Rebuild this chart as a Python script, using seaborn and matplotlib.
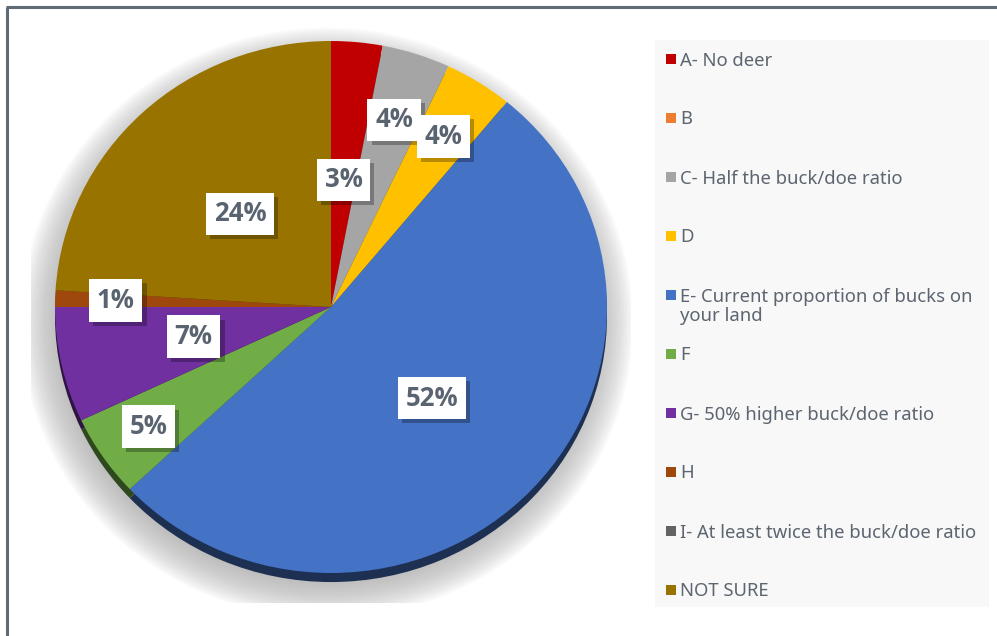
import matplotlib
matplotlib.use("Agg")
import matplotlib.pyplot as plt
import matplotlib.patheffects as pe
import matplotlib.colors as mcolors
from matplotlib.patches import Ellipse, Rectangle
import numpy as np
import seaborn as sns

# Survey answers and their shares (percent)
categories = [
    "A- No deer",
    "B",
    "C- Half the buck/doe ratio",
    "D",
    "E- Current proportion of bucks on\nyour land",
    "F",
    "G- 50% higher buck/doe ratio",
    "H",
    "I- At least twice the buck/doe ratio",
    "NOT SURE",
]
shares = [3, 0, 4, 4, 52, 5, 7, 1, 0, 24]
colors = ["#C00000", "#ED7D31", "#A5A5A5", "#FFC000", "#4472C4",
          "#70AD47", "#7030A0", "#9E480E", "#636363", "#997300"]

# radial position of each value box (fraction of the radius)
label_dist = [0.48, 0.5, 0.74, 0.76, 0.5, 0.8, 0.51, 0.78, 0.5, 0.48]

sns.set_theme(style="white")
plt.rcParams["font.family"] = ["Noto Sans", "DejaVu Sans"]

W, H = 997, 636
fig = plt.figure(figsize=(W / 100, H / 100), dpi=100)
fig.patch.set_facecolor("white")


def px_rect(x0, y0, x1, y1):
    return [x0 / W, 1 - y1 / H, (x1 - x0) / W, (y1 - y0) / H]


# Background layer in pixel units: frame and legend panel
ov = fig.add_axes([0, 0, 1, 1])
ov.set_xlim(0, W)
ov.set_ylim(H, 0)
ov.axis("off")
frame_col = "#5F6B77"
ov.plot([7, 7], [7, H], color=frame_col, lw=2.2, solid_capstyle="butt")
ov.plot([6, W], [7, 7], color=frame_col, lw=2.2, solid_capstyle="butt")

ov.add_patch(Rectangle((655, 40), 334, 567, facecolor="#F8F8F8", edgecolor="none"))
text_col = "#5C6570"
for i, (cat, col) in enumerate(zip(categories, colors)):
    y = 59 + 59 * i
    ov.add_patch(Rectangle((666, y - 5), 10, 10, facecolor=col, edgecolor="none"))
    ov.text(680, y - 7.5, cat, ha="left", va="top", fontsize=13.3,
            color=text_col, linespacing=1.1)

# Pie axes: slightly flattened ellipse
cx, cy, rx, ry = 331, 307, 276, 266
ax = fig.add_axes(px_rect(31, 5, 631, 603))

# soft drop shadow under the pie
for k in range(24):
    r = 1.11 - k * 0.0065
    ax.add_patch(Ellipse((-0.015, -0.06), 2 * r, 2 * r, facecolor="#A8A8A8",
                         alpha=0.05, linewidth=0, zorder=0))


def darken(c, f):
    rgb = np.array(mcolors.to_rgb(c))
    return tuple(rgb * f)


# extruded edge of the pie
ax.pie(shares, colors=[darken(c, 0.42) for c in colors], startangle=90,
       counterclock=False, center=(0, -0.034),
       wedgeprops=dict(linewidth=0, zorder=1))

wedges, _ = ax.pie(shares, colors=colors, startangle=90, counterclock=False,
                   wedgeprops=dict(linewidth=0, zorder=2))

for w, v, d in zip(wedges, shares, label_dist):
    if v == 0:
        continue
    theta = np.deg2rad((w.theta1 + w.theta2) / 2)
    t = ax.text(d * np.cos(theta), d * np.sin(theta), f"{v}%",
                ha="center", va="center", fontsize=18.5, fontweight="bold",
                family=["Open Sans", "Lato", "DejaVu Sans"],
                color="#5A6470", zorder=5,
                bbox=dict(boxstyle="square,pad=0.3", facecolor="white",
                          edgecolor="none"))
    t.get_bbox_patch().set_path_effects([
        pe.SimplePatchShadow(offset=(3, -3), shadow_rgbFace="black", alpha=0.28),
        pe.Normal(),
    ])

ax.set_aspect("auto")
ax.set_xlim((31 - cx) / rx, (631 - cx) / rx)
ax.set_ylim(-(603 - cy) / ry, (cy - 5) / ry)
ax.axis("off")

fig.savefig("out.png", dpi=100, facecolor="white")
